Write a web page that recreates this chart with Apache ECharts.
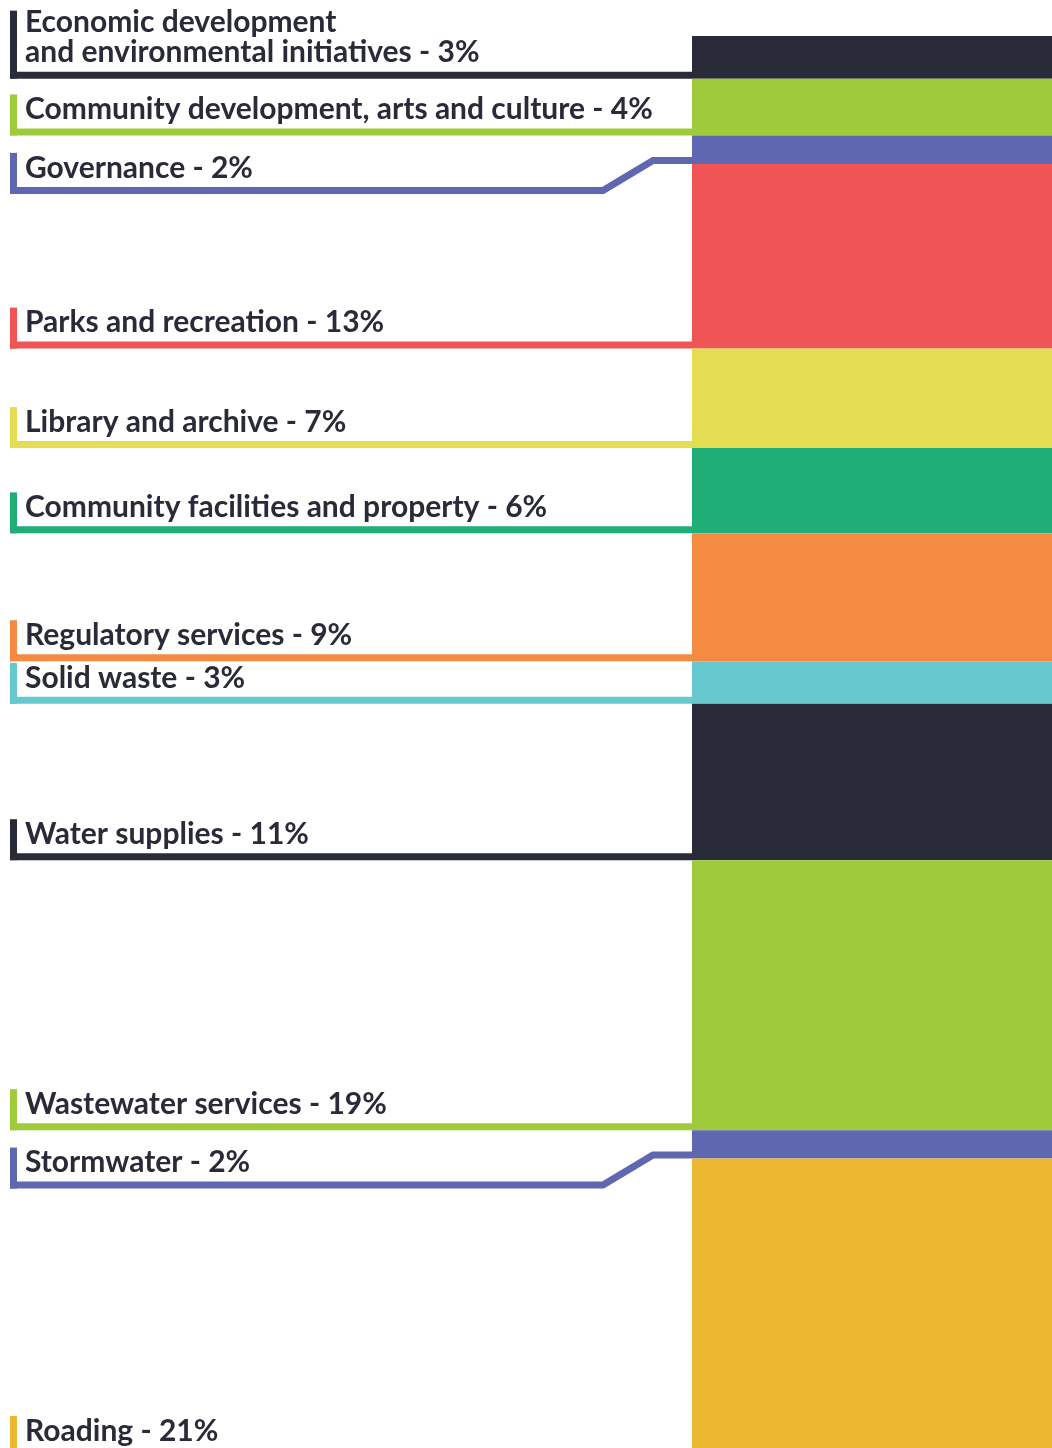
<!DOCTYPE html>
<html>
<head>
<meta charset="utf-8">
<title>Spending by activity</title>
<script src="https://cdn.jsdelivr.net/npm/echarts@6/dist/echarts.min.js"></script>
<style>
  html, body { margin: 0; padding: 0; background: #ffffff; }
  #chart { width: 1052px; height: 1448px; }
</style>
</head>
<body>
<div id="chart"></div>
<script>
// Activities, top to bottom, and their share of total spending (%)
const categories = [
  'Economic development\nand environmental initiatives',
  'Community development, arts and culture',
  'Governance',
  'Parks and recreation',
  'Library and archive',
  'Community facilities and property',
  'Regulatory services',
  'Solid waste',
  'Water supplies',
  'Wastewater services',
  'Stormwater',
  'Roading'
];
const shares = [3, 4, 2, 13, 7, 6, 9, 3, 11, 19, 2, 21];

// One colour per activity
const palette = [
  '#2a2b38', '#9fcb3b', '#5e67b0', '#f05454', '#e4dd52', '#1fae77',
  '#f58b42', '#67c9d0', '#2a2b38', '#9fcb3b', '#5e67b0', '#ecb832'
];

// Leaders that step down to make room for their label (px)
const leaderDrops = { 'Governance': 30, 'Stormwater': 30 };

const TEXT = '#2a2b38';
const FONT = 'Lato, "Noto Sans", sans-serif';
const LINE_W = 7;

// cumulative start/end of each segment for the label layer
const spans = [];
let acc = 0;
shares.forEach((s, i) => { spans.push([acc, acc + s, i]); acc += s; });

const barSeries = categories.map((name, i) => ({
  type: 'bar',
  name: name,
  stack: 'total',
  barWidth: '100%',
  data: [shares[i]],
  itemStyle: { color: palette[i] },
  silent: true
}));

const labelSeries = {
  type: 'custom',
  clip: false,
  silent: true,
  data: spans,
  z: 1,
  renderItem: function (params, api) {
    const idx = api.value(2);
    const name = categories[idx];
    const yEnd = api.coord([0, api.value(1)])[1];
    const gridLeft = params.coordSys.x;
    const xStart = 10;
    const color = palette[idx];
    const drop = leaderDrops[name] || 0;
    const yBar = yEnd - LINE_W / 2;          // leader centre at segment bottom
    const yLabel = yBar + drop;               // leader centre under the label
    const lines = name.split('\n').length;
    const tickH = 41 + 27 * (lines - 1);

    let points;
    if (drop) {
      points = [[xStart, yLabel], [603, yLabel], [653, yBar], [gridLeft, yBar]];
    } else {
      points = [[xStart, yBar], [gridLeft, yBar]];
    }

    return {
      type: 'group',
      children: [
        {
          type: 'polyline',
          shape: { points: points },
          style: { stroke: color, lineWidth: LINE_W, fill: null, lineJoin: 'miter' }
        },
        {
          type: 'rect',
          shape: { x: xStart, y: yLabel + LINE_W / 2 - tickH, width: 7, height: tickH },
          style: { fill: color }
        },
        {
          type: 'text',
          x: 25,
          y: yLabel - LINE_W / 2 - 4,
          style: {
            text: name + ' - ' + shares[idx] + '%',
            font: 'bold 30px ' + FONT,
            fill: TEXT,
            lineHeight: 30,
            align: 'left',
            verticalAlign: 'bottom'
          }
        }
      ]
    };
  }
};

const chart = echarts.init(document.getElementById('chart'), null, { renderer: 'canvas' });
chart.setOption({
  animation: false,
  backgroundColor: '#ffffff',
  grid: { left: 692, right: 0, top: 36, height: 1421, outerBoundsMode: 'none' },
  xAxis: { type: 'category', data: ['Spending'], show: false },
  yAxis: { type: 'value', min: 0, max: 100, inverse: true, show: false },
  series: barSeries.concat([labelSeries])
});
</script>
</body>
</html>
